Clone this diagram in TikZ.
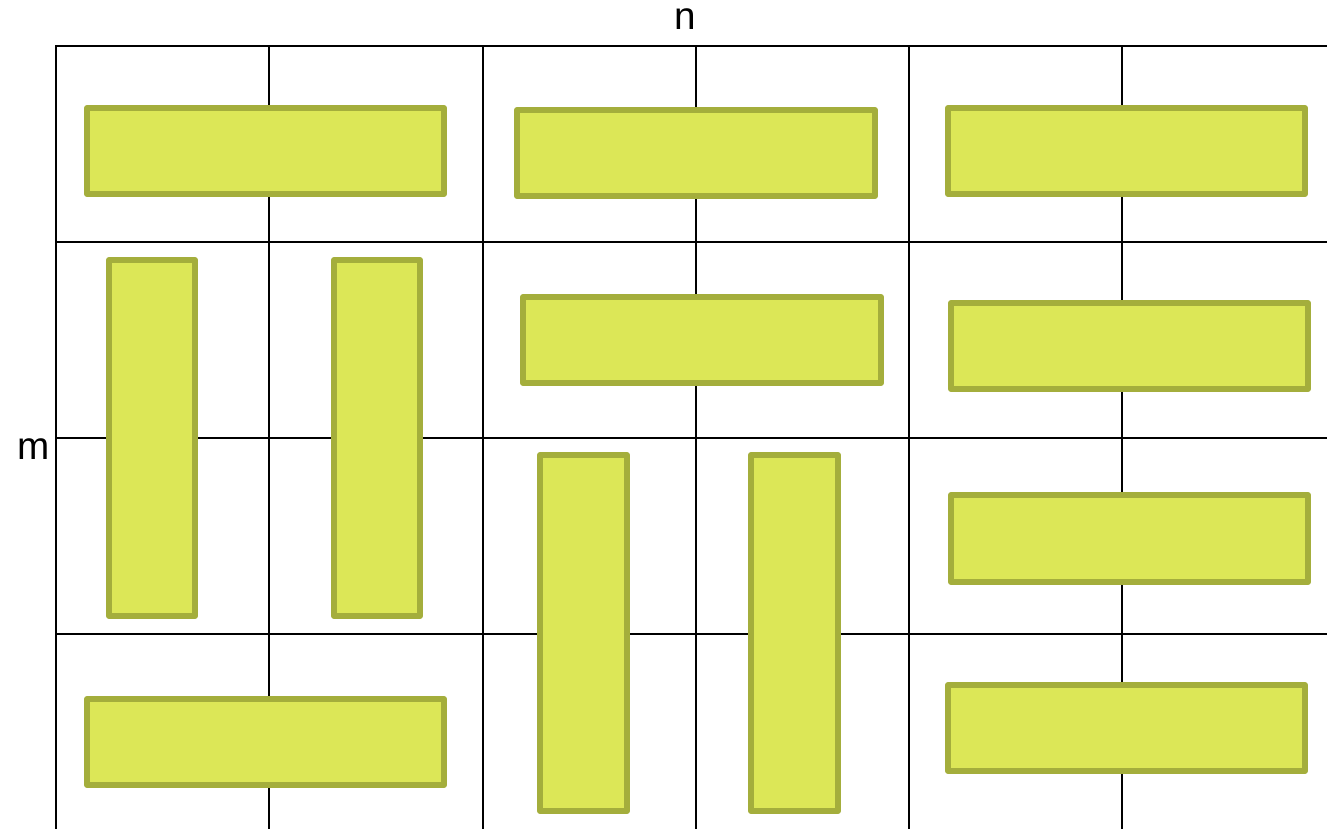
\documentclass[tikz,border=0pt]{standalone}
\usepackage{fontspec}
\setmainfont{Liberation Sans}
\definecolor{tilefill}{HTML}{DCE757}
\definecolor{tileedge}{HTML}{A4AE3C}
\begin{document}
\begin{tikzpicture}[x=0.75pt,y=-0.75pt,
  gridline/.style={line width=2.1pt,black},
  tile/.style={fill=tilefill,draw=tileedge,line width=4.5pt,line join=round},
  lbl/.style={font=\fontsize{29}{35}\selectfont,inner sep=0pt,anchor=base}]
\useasboundingbox (0,0) rectangle (1327,828);
\begin{scope}
\clip (0,0) rectangle (1327,828);
\foreach \x in {56,269,483,696,909,1122}
  \draw[gridline] (\x,46) -- (\x,840);
\foreach \y in {46,242,438,634}
  \draw[gridline] (55,\y) -- (1340,\y);
\end{scope}
\node[lbl] (n) at (685,29.5) {n};
\node[lbl] (m) at (34,459.5) {m};
\draw[tile] (87,108) rectangle (444,194);
\draw[tile] (517,110) rectangle (875,196);
\draw[tile] (948,108) rectangle (1305,194);
\draw[tile] (109,260) rectangle (195,616);
\draw[tile] (334,260) rectangle (420,616);
\draw[tile] (523,297) rectangle (881,383);
\draw[tile] (951,303) rectangle (1308,389);
\draw[tile] (540,455) rectangle (627,811);
\draw[tile] (751,455) rectangle (838,811);
\draw[tile] (951,495) rectangle (1308,582);
\draw[tile] (87,699) rectangle (444,785);
\draw[tile] (948,685) rectangle (1305,771);
\end{tikzpicture}
\end{document}
